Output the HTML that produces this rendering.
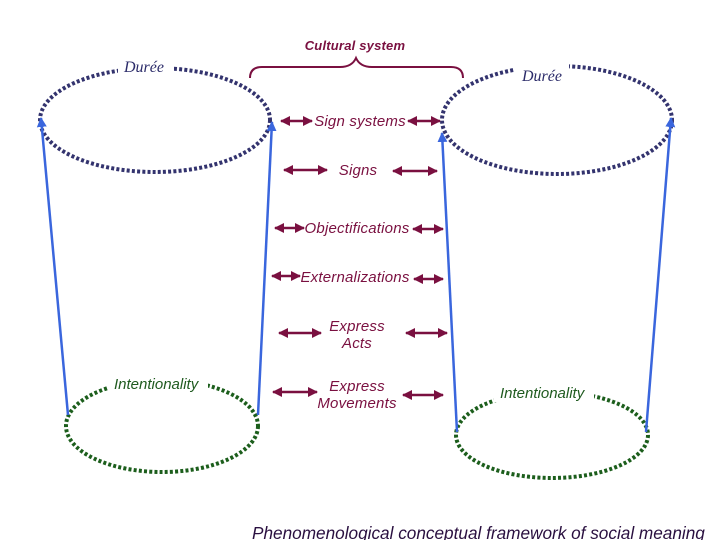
<!DOCTYPE html>
<html><head><meta charset="utf-8"><style>
html,body{margin:0;padding:0;background:#fff;width:720px;height:540px;overflow:hidden}
svg{display:block}
.m{font-family:"Liberation Sans",sans-serif;font-style:italic;font-size:15px;fill:#7a1040;letter-spacing:0.2px}
.g{font-family:"Liberation Sans",sans-serif;font-style:italic;font-size:15px;fill:#1f5a1f}
.d{font-family:"Liberation Serif",serif;font-style:italic;font-size:16px;fill:#2c2c6a}
</style></head><body>
<svg width="720" height="540" viewBox="0 0 720 540" xmlns="http://www.w3.org/2000/svg">
<defs>
<marker id="a" viewBox="0 0 10 10" refX="9" refY="5" markerWidth="4" markerHeight="4" orient="auto-start-reverse"><path d="M0,0L10,5L0,10z" fill="#7a1040"/></marker>
<marker id="b" viewBox="0 0 10 10" refX="9" refY="5" markerWidth="4" markerHeight="5" orient="auto"><path d="M0,0L10,5L0,10z" fill="#3a66dd"/></marker>
</defs>
<g fill="none" stroke-dasharray="3 2.2" stroke-width="4">
<ellipse cx="155" cy="120" rx="115" ry="52" stroke="#33336e"/>
<ellipse cx="557" cy="120" rx="115" ry="54" stroke="#33336e"/>
<ellipse cx="162" cy="426" rx="96" ry="46" stroke="#1c5e1c"/>
<ellipse cx="552" cy="435" rx="96" ry="43" stroke="#1c5e1c"/>
</g>
<rect x="118" y="58" width="56" height="22" fill="#fff"/>
<rect x="515" y="62" width="54" height="22" fill="#fff"/>
<rect x="108" y="370" width="100" height="20" fill="#fff"/>
<rect x="494" y="382" width="100" height="20" fill="#fff"/>
<text x="124" y="72" class="d">Durée</text>
<text x="522" y="81" class="d">Durée</text>
<text x="114" y="389" class="g">Intentionality</text>
<text x="500" y="398" class="g">Intentionality</text>
<g stroke="#3a66dd" stroke-width="2.5" fill="none">
<line x1="68" y1="415" x2="41" y2="118" marker-end="url(#b)"/>
<line x1="258" y1="415" x2="272" y2="122" marker-end="url(#b)"/>
<line x1="457" y1="432" x2="442" y2="133" marker-end="url(#b)"/>
<line x1="646" y1="432" x2="671" y2="118" marker-end="url(#b)"/>
</g>
<path d="M250,78 Q250,67 262,67 L340,67 Q352,67 356,58 Q360,67 372,67 L451,67 Q463,67 463,78" fill="none" stroke="#7a1040" stroke-width="2"/>
<text x="355" y="50" text-anchor="middle" class="m" style="font-size:13px;font-weight:bold">Cultural system</text>
<g stroke="#7a1040" stroke-width="2.5" marker-start="url(#a)" marker-end="url(#a)">
<line x1="281" y1="121" x2="312" y2="121"/><line x1="408" y1="121" x2="440" y2="121"/>
<line x1="284" y1="170" x2="327" y2="170"/><line x1="393" y1="171" x2="437" y2="171"/>
<line x1="275" y1="228" x2="304" y2="228"/><line x1="413" y1="229" x2="443" y2="229"/>
<line x1="272" y1="276" x2="300" y2="276"/><line x1="414" y1="279" x2="443" y2="279"/>
<line x1="279" y1="333" x2="321" y2="333"/><line x1="406" y1="333" x2="447" y2="333"/>
<line x1="273" y1="392" x2="317" y2="392"/><line x1="403" y1="395" x2="443" y2="395"/>
</g>
<g class="m" text-anchor="middle">
<text x="360" y="126">Sign systems</text>
<text x="358" y="175">Signs</text>
<text x="357" y="233">Objectifications</text>
<text x="355" y="282">Externalizations</text>
<text x="357" y="331">Express</text><text x="357" y="348">Acts</text>
<text x="357" y="391">Express</text><text x="357" y="408">Movements</text>
</g>
<text x="252" y="539" style="font-family:'Liberation Sans',sans-serif;font-style:italic;font-size:17.2px;fill:#2a1040">Phenomenological conceptual framework of social meaning</text>
</svg>
</body></html>
